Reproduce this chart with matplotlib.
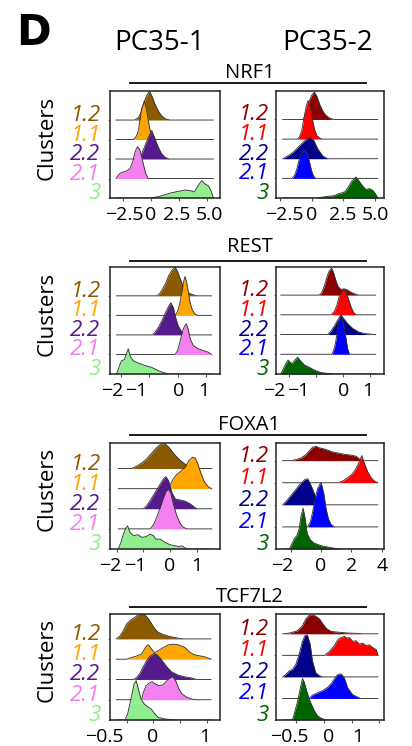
import matplotlib
matplotlib.use("Agg")
import matplotlib.pyplot as plt
from matplotlib.transforms import ScaledTranslation
from matplotlib.lines import Line2D
import numpy as np

plt.rcParams['font.family'] = ['Open Sans', 'DejaVu Sans']

# ---------------- data ----------------
genes = ['NRF1', 'REST', 'FOXA1', 'TCF7L2']
samples = ['PC35-1', 'PC35-2']
clusters = ['3', '2.1', '2.2', '1.1', '1.2']          # bottom -> top
colors_pc1 = ['#90EE90', '#F47FEF', '#551A8B', '#FFA500', '#8B5A00']
colors_pc2 = ['#006400', '#0000FF', '#00008B', '#FF0000', '#8B0000']

# ridge heights are in units of the ridge spacing
nrf1_a_c12_x = [-1.46,-1.25,-1.10,-0.87,-0.66,-0.45,-0.12,0.15,0.38,0.68,0.98,1.34,1.72]
nrf1_a_c12_h = [0,0.07,0.12,0.38,0.77,1.15,1.49,1.18,0.81,0.46,0.21,0.05,0]
nrf1_a_c11_x = [-1.55,-1.34,-1.19,-1.07,-0.96,-0.81,-0.57,-0.39,-0.24,-0.09,0.09,0.32,0.53]
nrf1_a_c11_h = [0,0.12,0.29,0.55,1.06,1.58,1.97,1.58,1.06,0.55,0.21,0.03,0]
nrf1_a_c22_x = [-1.16,-0.96,-0.75,-0.51,-0.21,0.09,0.38,0.68,0.98,1.28,1.63]
nrf1_a_c22_h = [0,0.12,0.34,0.69,1.12,1.46,1.03,0.60,0.26,0.09,0]
nrf1_a_c21_x = [-3.10,-2.89,-2.68,-2.44,-2.15,-1.85,-1.58,-1.40,-1.19,-0.98,-0.81,-0.60,-0.42,-0.21]
nrf1_a_c21_h = [0,0.17,0.29,0.34,0.39,0.52,0.91,1.37,1.63,1.49,1.12,0.60,0.22,0]
nrf1_a_c3_x = [-0.06,0.68,1.28,1.87,2.47,3.06,3.51,3.90,4.19,4.55,4.85,5.15,5.38,5.59]
nrf1_a_c3_h = [0,0.07,0.17,0.27,0.34,0.41,0.38,0.31,0.60,0.89,0.72,0.62,0.38,0]

nrf1_b_c12_x = [-0.71,-0.58,-0.37,-0.19,0.00,0.21,0.42,0.63,0.87,1.13,1.47,1.79]
nrf1_b_c12_h = [0,0.09,0.51,0.94,1.23,1.40,1.16,0.77,0.43,0.20,0.05,0]
nrf1_b_c11_x = [-1.16,-0.98,-0.79,-0.58,-0.42,-0.29,-0.13,0.02,0.21,0.42,0.68,0.87]
nrf1_b_c11_h = [0,0.09,0.43,1.19,1.70,1.96,1.70,1.11,0.51,0.17,0.03,0]
nrf1_b_c22_x = [-2.29,-2.03,-1.69,-1.37,-0.98,-0.58,-0.32,-0.11,0.16,0.47,0.87,1.26]
nrf1_b_c22_h = [0,0.09,0.22,0.39,0.65,0.90,1.02,1.07,0.94,0.51,0.14,0]
nrf1_b_c21_x = [-1.56,-1.37,-1.19,-0.98,-0.79,-0.58,-0.37,-0.19,0.00,0.16,0.31]
nrf1_b_c21_h = [0,0.14,0.44,0.99,1.29,1.43,1.29,0.87,0.36,0.10,0]
nrf1_b_c3_x = [0.34,1.13,1.79,2.05,2.37,2.63,2.89,3.16,3.50,3.76,4.03,4.29,4.55,4.82,5.03,5.21]
nrf1_b_c3_h = [0,0.07,0.12,0.20,0.26,0.32,0.56,0.85,1.07,0.85,0.60,0.43,0.48,0.39,0.22,0]

rest_a_c12_x = [-0.74,-0.64,-0.54,-0.42,-0.31,-0.19,-0.09,0.00,0.09,0.20,0.31,0.43,0.55,0.67]
rest_a_c12_h = [0,0.09,0.31,0.65,1.04,1.33,1.46,1.24,0.87,0.48,0.22,0.12,0.05,0]
rest_a_c11_x = [-0.09,0.00,0.08,0.14,0.20,0.26,0.31,0.37,0.43,0.51,0.61,0.70]
rest_a_c11_h = [0,0.20,0.63,1.14,1.65,1.99,1.74,1.23,0.71,0.29,0.07,0]
rest_a_c22_x = [-0.89,-0.80,-0.68,-0.56,-0.45,-0.33,-0.24,-0.15,-0.07,0.02,0.14,0.26,0.35]
rest_a_c22_h = [0,0.12,0.37,0.71,1.06,1.43,1.65,1.40,0.89,0.46,0.17,0.03,0]
rest_a_c21_x = [-0.09,0.00,0.08,0.16,0.23,0.30,0.37,0.44,0.55,0.72,0.90,1.07,1.19]
rest_a_c21_h = [0,0.20,0.63,1.14,1.40,1.57,1.31,0.80,0.46,0.29,0.20,0.12,0]
rest_a_c3_x = [-2.14,-2.06,-1.97,-1.87,-1.79,-1.73,-1.66,-1.56,-1.38,-1.15,-0.91,-0.68,-0.45,-0.27]
rest_a_c3_h = [0,0.34,0.68,0.73,1.07,1.29,0.90,0.68,0.56,0.44,0.34,0.17,0.05,0]

rest_b_c12_x = [-0.87,-0.78,-0.68,-0.59,-0.50,-0.41,-0.34,-0.25,-0.17,-0.07,0.06,0.18,0.30,0.43,0.58]
rest_b_c12_h = [0,0.12,0.46,0.89,1.23,1.36,1.14,0.72,0.43,0.29,0.32,0.26,0.15,0.07,0]
rest_b_c11_x = [-0.44,-0.31,-0.21,-0.13,-0.04,0.03,0.12,0.20,0.30,0.40,0.50]
rest_b_c11_h = [0,0.17,0.51,0.94,1.19,1.28,1.14,0.85,0.43,0.12,0]
rest_b_c22_x = [-0.56,-0.44,-0.31,-0.19,-0.07,0.03,0.18,0.37,0.58,0.80,1.04,1.22]
rest_b_c22_h = [0,0.17,0.43,0.73,0.99,0.82,0.56,0.31,0.14,0.05,0.02,0]
rest_b_c21_x = [-0.40,-0.31,-0.24,-0.17,-0.10,-0.04,0.03,0.11,0.18,0.25]
rest_b_c21_h = [0,0.29,0.80,1.45,1.85,1.98,1.55,0.89,0.29,0]
rest_b_c3_x = [-2.29,-2.19,-2.10,-2.02,-1.94,-1.86,-1.77,-1.67,-1.57,-1.42,-1.24,-1.05,-0.81,-0.56,-0.31]
rest_b_c3_h = [0,0.29,0.54,0.71,0.58,0.54,0.71,0.85,0.68,0.46,0.34,0.20,0.07,0.03,0]

foxa1_a_c12_x = [-1.44,-1.25,-1.06,-0.87,-0.69,-0.50,-0.34,-0.19,-0.04,0.12,0.31,0.50,0.66,0.81]
foxa1_a_c12_h = [0,0.12,0.28,0.49,0.77,1.05,1.22,1.23,1.05,0.77,0.49,0.28,0.12,0]
foxa1_a_c11_x = [-0.06,0.03,0.12,0.25,0.41,0.56,0.71,0.84,0.94,1.04,1.16,1.29,1.44,1.56]
foxa1_a_c11_h = [0,0.25,0.49,0.71,0.87,1.07,1.40,1.56,1.53,1.23,0.74,0.33,0.08,0]
foxa1_a_c22_x = [-1.00,-0.87,-0.71,-0.56,-0.37,-0.25,-0.16,-0.06,0.06,0.19,0.37,0.56,0.75,0.87,1.00]
foxa1_a_c22_h = [0,0.16,0.49,0.82,1.23,1.48,1.60,1.40,0.82,0.49,0.44,0.38,0.25,0.12,0]
foxa1_a_c21_x = [-0.75,-0.62,-0.50,-0.37,-0.25,-0.15,-0.06,0.03,0.12,0.25,0.37,0.50,0.62]
foxa1_a_c21_h = [0,0.21,0.58,1.07,1.56,1.89,1.97,1.76,1.23,0.66,0.28,0.08,0]
foxa1_a_c3_x = [-1.94,-1.84,-1.75,-1.66,-1.59,-1.50,-1.37,-1.21,-1.06,-0.91,-0.75,-0.62,-0.54,-0.37,-0.19,0.00,0.19,0.34,0.44,0.56,0.69]
foxa1_a_c3_h = [0,0.33,0.74,1.04,1.15,0.82,0.66,0.71,0.58,0.61,0.74,0.66,0.49,0.49,0.33,0.21,0.16,0.12,0.16,0.05,0]

foxa1_b_c12_x = [-1.97,-1.64,-1.32,-0.99,-0.77,-0.55,-0.33,-0.11,0.11,0.33,0.55,0.77,1.10,1.43,1.75,2.08,2.30,2.46,2.63]
foxa1_b_c12_h = [0,0.05,0.12,0.27,0.45,0.61,0.65,0.58,0.55,0.50,0.45,0.39,0.35,0.30,0.27,0.24,0.20,0.12,0]
foxa1_b_c11_x = [1.10,1.43,1.75,2.08,2.30,2.52,2.68,2.85,3.07,3.29,3.51,3.73]
foxa1_b_c11_h = [0,0.08,0.23,0.42,0.65,0.95,1.23,0.88,0.50,0.23,0.08,0]
foxa1_b_c22_x = [-2.52,-2.30,-2.02,-1.71,-1.36,-1.05,-0.88,-0.70,-0.48,-0.26,-0.11]
foxa1_b_c22_h = [0,0.15,0.39,0.65,0.95,1.15,1.18,0.95,0.58,0.20,0]
foxa1_b_c21_x = [-0.88,-0.70,-0.55,-0.39,-0.22,0.00,0.18,0.33,0.48,0.66,0.88]
foxa1_b_c21_h = [0,0.23,0.68,1.29,1.74,2.02,1.52,0.83,0.38,0.11,0]
foxa1_b_c3_x = [-2.08,-1.93,-1.75,-1.58,-1.43,-1.32,-1.18,-1.05,-0.92,-0.70,-0.44,0.00,0.44,0.88,1.32]
foxa1_b_c3_h = [0,0.21,0.48,0.61,0.94,1.47,1.85,1.39,0.71,0.41,0.26,0.15,0.09,0.03,0]

tcf7l2_a_c12_x = [-0.69,-0.62,-0.56,-0.50,-0.42,-0.34,-0.28,-0.22,-0.16,-0.09,-0.03,0.03,0.09,0.19,0.31,0.44,0.56]
tcf7l2_a_c12_h = [0,0.16,0.41,0.74,0.94,1.07,1.20,1.27,1.20,0.99,0.74,0.49,0.33,0.21,0.12,0.05,0]
tcf7l2_a_c11_x = [-0.50,-0.41,-0.31,-0.22,-0.14,-0.09,-0.03,0.02,0.09,0.19,0.28,0.38,0.47,0.59,0.69,0.78,0.88,0.96,1.03,1.08]
tcf7l2_a_c11_h = [0,0.08,0.16,0.25,0.61,0.71,0.49,0.33,0.41,0.58,0.71,0.74,0.71,0.58,0.33,0.21,0.16,0.12,0.05,0]
tcf7l2_a_c22_x = [-0.37,-0.31,-0.25,-0.19,-0.12,-0.06,0.02,0.08,0.16,0.25,0.34,0.47,0.59,0.72,0.81]
tcf7l2_a_c22_h = [0,0.10,0.30,0.63,0.95,1.15,1.28,1.20,0.95,0.63,0.38,0.21,0.13,0.07,0]
tcf7l2_a_c21_x = [-0.22,-0.19,-0.14,-0.08,-0.02,0.04,0.11,0.17,0.23,0.29,0.36,0.42,0.48,0.54,0.63,0.72,0.81]
tcf7l2_a_c21_h = [0,0.33,0.66,0.82,0.89,0.77,0.69,0.72,0.86,1.05,1.15,0.94,0.53,0.28,0.12,0.03,0]
tcf7l2_a_c3_x = [-0.53,-0.48,-0.44,-0.39,-0.36,-0.32,-0.28,-0.23,-0.17,-0.11,-0.04,0.02,0.09,0.22,0.34,0.47]
tcf7l2_a_c3_h = [0,0.30,0.79,1.37,1.78,1.94,1.53,1.04,0.79,0.66,0.54,0.33,0.13,0.05,0.02,0]

tcf7l2_b_c12_x = [-0.72,-0.60,-0.48,-0.39,-0.33,-0.27,-0.21,-0.15,-0.08,-0.02,0.04,0.13,0.25,0.37,0.49,0.61,0.70]
tcf7l2_b_c12_h = [0,0.05,0.15,0.38,0.69,0.85,0.88,0.82,0.69,0.46,0.26,0.11,0.08,0.05,0.03,0.02,0]
tcf7l2_b_c11_x = [0.01,0.10,0.19,0.25,0.31,0.37,0.42,0.46,0.52,0.58,0.64,0.70,0.76,0.82,0.88,0.95,0.98]
tcf7l2_b_c11_h = [0,0.18,0.46,0.72,0.83,0.88,0.80,0.83,0.65,0.68,0.52,0.57,0.46,0.49,0.37,0.26,0]
tcf7l2_b_c22_x = [-0.75,-0.69,-0.63,-0.57,-0.51,-0.45,-0.39,-0.34,-0.30,-0.25,-0.21,-0.15,-0.08,-0.02]
tcf7l2_b_c22_h = [0,0.12,0.28,0.35,0.58,1.05,1.66,1.94,1.94,1.51,0.74,0.20,0.05,0]
tcf7l2_b_c21_x = [-0.27,-0.21,-0.12,-0.02,0.07,0.14,0.20,0.25,0.31,0.37,0.43,0.52,0.61,0.67]
tcf7l2_b_c21_h = [0,0.15,0.26,0.37,0.52,0.72,0.95,1.11,1.14,0.95,0.49,0.18,0.06,0]
tcf7l2_b_c3_x = [-0.57,-0.53,-0.48,-0.43,-0.39,-0.36,-0.31,-0.25,-0.18,-0.12,-0.05,0.04]
tcf7l2_b_c3_h = [0,0.38,0.85,1.46,1.92,1.77,1.31,0.85,0.46,0.20,0.08,0]

# tick values / labels per gene
nrf1_ticks = [-2.5, 0, 2.5, 5.0]
nrf1_ticklabels = ['\u22122.5', '0', '2.5', '5.0']
rest_ticks = [-2, -1, 0, 1]
rest_ticklabels = ['\u22122', '\u22121', '0', '1']
foxa1_a_ticks = [-2, -1, 0, 1]
foxa1_a_ticklabels = ['\u22122', '\u22121', '0', '1']
foxa1_b_ticks = [-2, 0, 2, 4]
foxa1_b_ticklabels = ['\u22122', '0', '2', '4']
tcf7l2_ticks = [-0.5, 0, 0.5, 1]
tcf7l2_ticklabels = ['\u22120.5', '0', '', '1']

g = globals()
def curves_for(prefix):
    out = []
    for c in ['c3', 'c21', 'c22', 'c11', 'c12']:
        out.append((g[f'{prefix}_{c}_x'], g[f'{prefix}_{c}_h']))
    return out

# ---------------- layout (pixels) ----------------
W, H = 412, 746
fig = plt.figure(figsize=(W / 100, H / 100), dpi=100)

rows_px = [(91, 198), (267.5, 374), (443, 549), (614, 720)]
cols_px = [(109.5, 219.5), (276, 383.5)]

panel_cfg = {
    ('NRF1', 0): dict(prefix='nrf1_a', xlim=(-3.68, 6.14), ytop=5.49, ticks=nrf1_ticks, tl=nrf1_ticklabels, offs=[2, 0, -2.0, 2.5]),
    ('NRF1', 1): dict(prefix='nrf1_b', xlim=(-2.82, 5.67), ytop=5.45, ticks=nrf1_ticks, tl=nrf1_ticklabels, offs=[4, 0, -1, 0.5]),
    ('REST', 0): dict(prefix='rest_a', xlim=(-2.39, 1.47), ytop=5.45, ticks=rest_ticks, tl=rest_ticklabels, offs=[-8.5, -13.0, 0.6, -2.2]),
    ('REST', 1): dict(prefix='rest_b', xlim=(-2.47, 1.51), ytop=5.40, ticks=rest_ticks, tl=rest_ticklabels, offs=[-14.8, -17.5, 0.5, -1.5]),
    ('FOXA1', 0): dict(prefix='foxa1_a', xlim=(-2.27, 1.85), ytop=5.27, ticks=foxa1_a_ticks, tl=foxa1_a_ticklabels, offs=[-6.3, -8.0, 0, 0]),
    ('FOXA1', 1): dict(prefix='foxa1_b', xlim=(-2.96, 4.11), ytop=4.80, ticks=foxa1_b_ticks, tl=foxa1_b_ticklabels, offs=[-8.1, 0, 0, 0]),
    ('TCF7L2', 0): dict(prefix='tcf7l2_a', xlim=(-0.82, 1.24), ytop=5.23, ticks=tcf7l2_ticks, tl=tcf7l2_ticklabels, offs=[-22.6, -1, 0, -1.6]),
    ('TCF7L2', 1): dict(prefix='tcf7l2_b', xlim=(-0.87, 1.08), ytop=4.92, ticks=tcf7l2_ticks, tl=tcf7l2_ticklabels, offs=[-7.5, 4.7, 0, -21.7]),
}

def px_rect(x0, x1, y0, y1):
    return [x0 / W, 1 - y1 / H, (x1 - x0) / W, (y1 - y0) / H]

gene_baseline = [78.5, 252, 430, 601.5]
gene_line_y = [82.7, 260.7, 435, 606.7]

for r, gene in enumerate(genes):
    ytop_px, ybot_px = rows_px[r]
    for c in range(2):
        cfg = panel_cfg[(gene, c)]
        x0, x1 = cols_px[c]
        ax = fig.add_axes(px_rect(x0, x1, ytop_px, ybot_px))
        cols = colors_pc1 if c == 0 else colors_pc2
        curves = curves_for(cfg['prefix'])
        allx = np.concatenate([np.asarray(cx, float) for cx, _ in curves])
        lo, hi = allx.min(), allx.max()
        for i in range(4, -1, -1):
            cx, ch = curves[i]
            xx = np.concatenate([[lo], cx, [hi]])
            yy = i + np.concatenate([[0], ch, [0]])
            z = 10 + (4 - i) * 2
            ax.fill_between(xx, i, yy, color=cols[i], lw=0, zorder=z)
            ax.plot(xx, yy, color='#333333', lw=0.65, zorder=z + 1)
        ax.set_xlim(*cfg['xlim'])
        ax.set_ylim(0, cfg['ytop'])
        for s in ax.spines.values():
            s.set_linewidth(1.1)
            s.set_color('#222222')
            s.set_zorder(30)
        ax.set_xticks(cfg['ticks'])
        ax.set_xticklabels(cfg['tl'], fontsize=14)
        ax.tick_params(axis='x', length=2.2, width=0.8, pad=3.6, color='#555555')
        for lab, dx in zip(ax.get_xticklabels(), cfg['offs']):
            lab.set_transform(lab.get_transform() + ScaledTranslation(dx / 100, 0, fig.dpi_scale_trans))
        ax.set_yticks(range(5))
        ax.set_yticklabels(clusters, fontsize=16, fontstyle='italic')
        ax.tick_params(axis='y', length=1.5, width=0.6, pad=5.0 if c == 0 else 3.8, color='#777777')
        for lab, col in zip(ax.get_yticklabels(), cols):
            lab.set_color(col)
            lab.set_transform(lab.get_transform() + ScaledTranslation(0, 7 / 100, fig.dpi_scale_trans))
        if c == 0:
            yc = (ytop_px + ybot_px) / 2 - 7
            fig.text(46.7 / W, 1 - yc / H, 'Clusters', rotation=90, ha='center', va='center', fontsize=16)
    fig.text(249.5 / W, 1 - gene_baseline[r] / H, gene, ha='center', va='baseline', fontsize=14.5)
    fig.add_artist(Line2D([130 / W, 366 / W], [1 - gene_line_y[r] / H] * 2, color='#1a1a1a', lw=1.4))

fig.text(159.2 / W, 1 - 50 / H, samples[0], ha='center', va='baseline', fontsize=20)
fig.text(327.5 / W, 1 - 50 / H, samples[1], ha='center', va='baseline', fontsize=20)
fig.text(16 / W, 1 - 45 / H, 'D', ha='left', va='baseline', fontsize=30, fontweight='bold', family='DejaVu Sans')

fig.savefig('out.png', dpi=100)
